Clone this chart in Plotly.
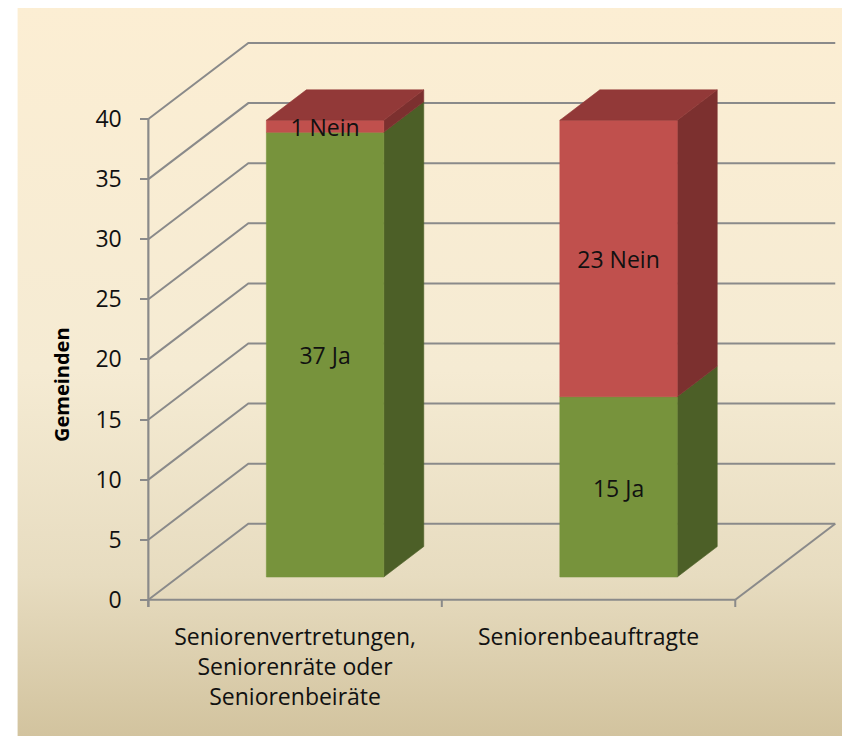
import base64
import plotly.graph_objects as go

# ---------------- data ----------------
categories = ["Seniorenvertretungen,<br>Seniorenräte oder<br>Seniorenbeiräte", "Seniorenbeauftragte"]
ja_values = [37, 15]
nein_values = [1, 23]
ja_suffix = "Ja"
nein_suffix = "Nein"
y_ticks = [0, 5, 10, 15, 20, 25, 30, 35, 40]
y_title = "Gemeinden"

# ---------------- styling / geometry ----------------
FONT = "Open Sans"
TXT = "#111111"
GRID = "#8A8A8A"
GREEN = dict(front="#77933C", side="#4C5F27", top="#5F7630")
RED = dict(front="#C0504D", side="#7C302F", top="#923938")

OFF = 8                     # page body margin of the html page
W, H = 850 - OFF, 736 - OFF
KX = 293.5                  # px per category unit
KY = 12.0125                # px per value unit
X0PX, Y0PX = 148 - OFF, 600 - OFF   # pixel of (x=-0.5, y=0) inside the figure
DX = 100 / KX               # depth shift in category units
DY = 76 / KY                # depth shift in value units
F0, F1 = 0.3, 0.7           # bar depth extent (fraction of floor depth)
HALF = 0.2                  # half bar width
LABEL_SHIFT = -4 / KY       # data labels sit slightly below the segment centre

YMAX_V = max(y_ticks)
XMIN, XMAX = -0.6, len(categories) - 0.5 + DX + 0.04
YMIN, YMAX = -0.6, YMAX_V + DY + 0.25

left_px = X0PX - (-0.5 - XMIN) * KX
right_px = X0PX + (XMAX + 0.5) * KX
top_px = Y0PX - YMAX * KY
bot_px = Y0PX - YMIN * KY
plot_w = right_px - left_px
plot_h = bot_px - top_px


def proj(x, y, f):
    return x + f * DX, y + f * DY


def poly_trace(pts, color):
    xs, ys = [], []
    for (x, y, f) in pts:
        px, py = proj(x, y, f)
        xs.append(px)
        ys.append(py)
    xs.append(xs[0])
    ys.append(ys[0])
    return go.Scatter(x=xs, y=ys, mode="lines", fill="toself", fillcolor=color,
                      line=dict(color=color, width=0.6), hoverinfo="skip", showlegend=False)


fig = go.Figure()

# ---- walls / gridlines ----
gx, gy = [], []
x_left = -0.5
x_right = len(categories) - 0.5
for v in y_ticks:
    for (x, f) in [(x_left, 0), (x_left, 1), (x_right, 1)]:
        px, py = proj(x, v, f)
        gx.append(px)
        gy.append(py)
    gx.append(None)
    gy.append(None)
for (a, b) in [((x_left, 0, 0), (x_right, 0, 0)), ((x_right, 0, 0), (x_right, 0, 1))]:
    for p in (a, b):
        px, py = proj(*p)
        gx.append(px)
        gy.append(py)
    gx.append(None)
    gy.append(None)
for k in range(len(categories) + 1):
    xb = -0.5 + k
    gx += [xb, xb, None]
    gy += [0, YMIN, None]
fig.add_trace(go.Scatter(x=gx, y=gy, mode="lines", line=dict(color=GRID, width=2),
                         hoverinfo="skip", showlegend=False))
fig.add_trace(go.Scatter(x=[x_left, x_left], y=[YMIN, YMAX_V], mode="lines",
                         line=dict(color=GRID, width=2.2), hoverinfo="skip", showlegend=False))

# ---- 3D stacked bars ----
lab_x, lab_y, lab_t = [], [], []
for i in range(len(categories)):
    segs = [(0, ja_values[i], GREEN, f"{ja_values[i]} {ja_suffix}"),
            (ja_values[i], ja_values[i] + nein_values[i], RED, f"{nein_values[i]} {nein_suffix}")]
    xl, xr = i - HALF, i + HALF
    for (v0, v1, col, txt) in segs:
        fig.add_trace(poly_trace([(xr, v0, F0), (xr, v0, F1), (xr, v1, F1), (xr, v1, F0)], col["side"]))
        fig.add_trace(poly_trace([(xl, v0, F0), (xr, v0, F0), (xr, v1, F0), (xl, v1, F0)], col["front"]))
        cx, cy = proj(i, (v0 + v1) / 2, F0)
        lab_x.append(cx)
        lab_y.append(cy + LABEL_SHIFT)
        lab_t.append(txt)
    v0, v1, col, _ = segs[-1]
    fig.add_trace(poly_trace([(xl, v1, F0), (xr, v1, F0), (xr, v1, F1), (xl, v1, F1)], col["top"]))

fig.add_trace(go.Scatter(x=lab_x, y=lab_y, mode="text", text=lab_t,
                         textfont=dict(family=FONT, size=23, color=TXT),
                         hoverinfo="skip", showlegend=False, cliponaxis=False))

# ---- background gradient ----
svg = ("<svg xmlns='http://www.w3.org/2000/svg' width='10' height='100' viewBox='0 0 10 100' "
       "preserveAspectRatio='none'><defs><linearGradient id='g' x1='0' y1='0' x2='0' y2='1'>"
       "<stop offset='0' stop-color='#FCEED3'/><stop offset='0.5' stop-color='#F5EBD3'/>"
       "<stop offset='0.78' stop-color='#E7DCC0'/><stop offset='1' stop-color='#D2C39E'/>"
       "</linearGradient></defs><rect width='10' height='100' fill='url(#g)'/></svg>")
src = "data:image/svg+xml;base64," + base64.b64encode(svg.encode()).decode()

bg_l, bg_t = 17 - OFF, 4 - OFF
fig.add_layout_image(dict(source=src, xref="paper", yref="paper",
                          x=(bg_l - left_px) / plot_w, y=(bot_px - bg_t) / plot_h,
                          sizex=(W + 2 - bg_l) / plot_w, sizey=(H + 2 - bg_t) / plot_h,
                          xanchor="left", yanchor="top", sizing="stretch", layer="below"))

fig.add_annotation(text=f"<b>{y_title}</b>", xref="paper", yref="paper",
                   x=(61 - OFF - left_px) / plot_w, y=(bot_px - (385 - OFF)) / plot_h,
                   textangle=-90, showarrow=False, xanchor="center", yanchor="middle",
                   font=dict(family=FONT, size=20, color="#000000"))

fig.update_layout(
    width=W, height=H,
    margin=dict(l=left_px, r=W - right_px, t=top_px, b=H - bot_px, pad=0),
    paper_bgcolor="white", plot_bgcolor="rgba(0,0,0,0)",
    showlegend=False, hovermode=False,
    font=dict(family=FONT, size=23, color=TXT),
    xaxis=dict(range=[XMIN, XMAX], tickvals=list(range(len(categories))), ticktext=categories,
               ticks="", showgrid=False, zeroline=False, showline=False,
               tickfont=dict(family=FONT, size=23, color=TXT), ticklabelstandoff=14),
    yaxis=dict(range=[YMIN, YMAX], tickvals=y_ticks, ticks="outside", ticklen=8, tickwidth=2,
               tickcolor=GRID, showgrid=False, zeroline=False, showline=False,
               anchor="free", position=(X0PX - left_px) / plot_w,
               tickfont=dict(family=FONT, size=23, color=TXT), ticklabelstandoff=14),
)

fig.write_html("out.html")
